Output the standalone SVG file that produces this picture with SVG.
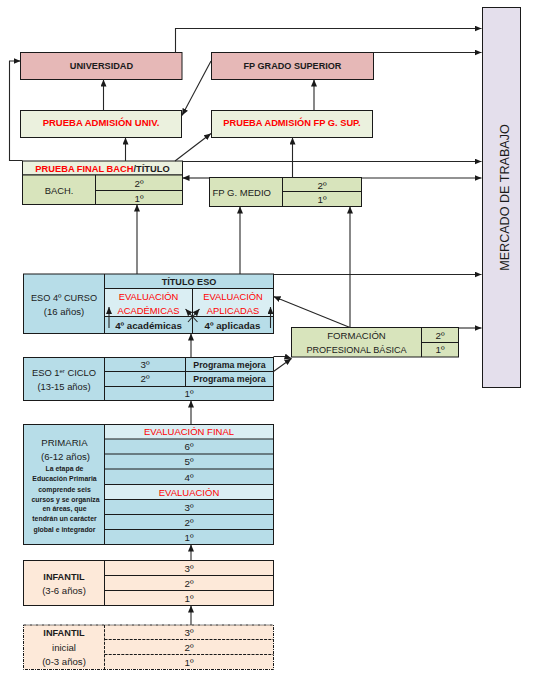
<svg xmlns="http://www.w3.org/2000/svg" width="546" height="676" viewBox="0 0 546 676">
<defs>
<marker id="ah" markerUnits="userSpaceOnUse" markerWidth="7" markerHeight="6" refX="7" refY="3" orient="auto-start-reverse"><path d="M0,0 L7,3 L0,6 z" fill="#1a1a1a"/></marker>
<style>
text{font-family:"Liberation Sans",Arial,sans-serif;fill:#1b1b1b;text-anchor:middle}
.b{font-weight:bold}
.r{fill:#ff0000}
.bx{stroke:#1a1a1a;stroke-width:1}
.ln{fill:none;stroke:#1a1a1a;stroke-width:1}
.c{stroke:#262626;stroke-width:1.1;fill:none}
.a{marker-end:url(#ah)}
.pink{fill:#E6B8B7}.lg{fill:#EBF1DE}.og{fill:#D8E4BC}.bl{fill:#B7DDE8}.lb{fill:#DAEEF3}.pe{fill:#FDE9D9}.lv{fill:#E4DFEC}
.dsh{stroke-dasharray:3 1 1 1}
.dsh2{stroke-dasharray:3 1.2}
</style>
</defs>

<g id="mercado">
<rect class="bx lv" x="482.5" y="7.5" width="38" height="380"/>
<text x="508.5" y="197.5" font-size="12.6" transform="rotate(-90 508.5 197.5)">MERCADO DE TRABAJO</text>
</g>

<g id="universidad">
<rect class="bx pink" x="20.5" y="52.5" width="161.5" height="27"/>
<text class="b" x="101.5" y="68.5" font-size="9.2">UNIVERSIDAD</text>
</g>

<g id="fp-grado-superior">
<rect class="bx pink" x="211.5" y="52.5" width="162" height="27"/>
<text class="b" x="292.5" y="68.5" font-size="9.1">FP GRADO SUPERIOR</text>
</g>

<g id="prueba-admision-univ">
<rect class="bx lg" x="20.5" y="110.5" width="161" height="27"/>
<text class="b r" x="101" y="125.5" font-size="9.5">PRUEBA ADMISIÓN UNIV.</text>
</g>

<g id="prueba-admision-fp">
<rect class="bx lg" x="211.5" y="110.5" width="161" height="27"/>
<text class="b r" x="292" y="125.5" font-size="9.3">PRUEBA ADMISIÓN FP G. SUP.</text>
</g>

<g id="bach">
<rect class="bx lg" x="22.5" y="161" width="160" height="14"/>
<rect class="bx og" x="22.5" y="175" width="160" height="29.5"/>
<path class="ln" d="M95.5,175 V204.5 M95.5,190.5 H182.5"/>
<text class="b" x="102.5" y="172" font-size="9.3"><tspan class="r">PRUEBA FINAL BACH</tspan>/TÍTULO</text>
<text x="59" y="194" font-size="9.4">BACH.</text>
<text x="139" y="186.5" font-size="9.8">2º</text>
<text x="139" y="201.5" font-size="9.8">1º</text>
</g>

<g id="fp-grado-medio">
<rect class="bx og" x="209.5" y="177.5" width="152" height="29"/>
<path class="ln" d="M282.5,177.5 V206.5 M282.5,191.5 H361.5"/>
<text x="212.5" y="196" font-size="9.5" style="text-anchor:start">FP G. MEDIO</text>
<text x="322" y="188.5" font-size="9.8">2º</text>
<text x="322" y="203" font-size="9.8">1º</text>
</g>

<g id="eso-4">
<rect class="bx bl" x="23.5" y="274" width="250" height="59.5"/>
<rect class="bx lb" x="104.5" y="288.5" width="169" height="28"/>
<path class="ln" d="M104.5,274 V333.5 M192.5,288.5 V333.5"/>
<text x="64" y="301" font-size="9.2">ESO 4º CURSO</text>
<text x="64" y="315" font-size="9.6">(16 años)</text>
<text class="b" x="189" y="285" font-size="9.1">TÍTULO ESO</text>
<text class="r" x="148.5" y="300" font-size="9.4">EVALUACIÓN</text>
<text class="r" x="148.5" y="313.5" font-size="9.4">ACADÉMICAS</text>
<text class="r" x="233" y="300" font-size="9.4">EVALUACIÓN</text>
<text class="r" x="233" y="313.5" font-size="9.4">APLICADAS</text>
<text class="b" x="148.5" y="329" font-size="9.7">4º académicas</text>
<text class="b" x="232.5" y="329" font-size="9.7">4º aplicadas</text>
</g>

<g id="fp-basica">
<rect class="bx og" x="291.5" y="327.5" width="167" height="29.5"/>
<path class="ln" d="M421.5,327.5 V357 M421.5,342.5 H458.5"/>
<text x="356.5" y="338.5" font-size="9.6">FORMACIÓN</text>
<text x="356.5" y="352.5" font-size="9.1">PROFESIONAL BÁSICA</text>
<text x="440" y="338.5" font-size="9.8">2º</text>
<text x="440" y="353" font-size="9.8">1º</text>
</g>

<g id="eso-1-ciclo">
<rect class="bx bl" x="23.5" y="357.5" width="250" height="43"/>
<path class="ln" d="M104.5,357.5 V400.5 M104.5,371.5 H273.5 M104.5,386.5 H273.5 M185.5,357.5 V386.5"/>
<text x="64" y="376" font-size="9.4">ESO 1<tspan font-size="6" dy="-3.5">er</tspan><tspan dy="3.5"> CICLO</tspan></text>
<text x="64" y="390" font-size="9.4">(13-15 años)</text>
<text x="145" y="367.5" font-size="9.8">3º</text>
<text x="145" y="382" font-size="9.8">2º</text>
<text class="b" x="229.5" y="367.5" font-size="8.8">Programa mejora</text>
<text class="b" x="229.5" y="382" font-size="8.8">Programa mejora</text>
<text x="189" y="397" font-size="9.8">1º</text>
</g>

<g id="primaria">
<rect class="bx bl" x="23.5" y="424.5" width="250" height="120"/>
<rect class="bx lb" x="104.5" y="424.5" width="169" height="14.5"/>
<rect class="bx lb" x="104.5" y="484.5" width="169" height="15"/>
<path class="ln" d="M104.5,424.5 V544.5 M104.5,454 H273.5 M104.5,469 H273.5 M104.5,514.5 H273.5 M104.5,529.5 H273.5"/>
<text x="64.5" y="446" font-size="9.6">PRIMARIA</text>
<text x="65.5" y="460" font-size="9.6">(6-12 años)</text>
<g class="b" font-size="6.9">
<text x="64.5" y="471">La etapa de</text>
<text x="64.5" y="481">Educación Primaria</text>
<text x="64.5" y="491.5">comprende seis</text>
<text x="65.5" y="501.5">cursos y se organiza</text>
<text x="64.5" y="511">en áreas, que</text>
<text x="64.5" y="521">tendrán un carácter</text>
<text x="64.5" y="531.5">global e integrador</text>
</g>
<text class="r" x="189" y="435" font-size="9.5">EVALUACIÓN FINAL</text>
<text x="189" y="450" font-size="9.8">6º</text>
<text x="189" y="465" font-size="9.8">5º</text>
<text x="189" y="480.5" font-size="9.8">4º</text>
<text class="r" x="189" y="495.5" font-size="9.5">EVALUACIÓN</text>
<text x="189" y="510.5" font-size="9.8">3º</text>
<text x="189" y="525.5" font-size="9.8">2º</text>
<text x="189" y="540.5" font-size="9.8">1º</text>
</g>

<g id="infantil">
<rect class="bx pe" x="23.5" y="560.5" width="250" height="45"/>
<path class="ln" d="M104.5,560.5 V605.5 M104.5,575.5 H273.5 M104.5,590.5 H273.5"/>
<text class="b" x="64" y="579.5" font-size="9.2">INFANTIL</text>
<text x="64" y="594" font-size="9.6">(3-6 años)</text>
<text x="189" y="571.5" font-size="9.8">3º</text>
<text x="189" y="586.5" font-size="9.8">2º</text>
<text x="189" y="601.5" font-size="9.8">1º</text>
</g>

<g id="infantil-inicial">
<rect class="bx pe dsh" x="23.5" y="625" width="250" height="44.5"/>
<path class="ln dsh2" d="M104.5,625 V669.5 M104.5,639.5 H273.5 M104.5,654.5 H273.5"/>
<text class="b" x="64" y="636" font-size="9.2">INFANTIL</text>
<text x="64" y="650.5" font-size="9.6">inicial</text>
<text x="64" y="664.5" font-size="9.6">(0-3 años)</text>
<text x="189" y="635.5" font-size="9.8">3º</text>
<text x="189" y="650.5" font-size="9.8">2º</text>
<text x="189" y="665.5" font-size="9.8">1º</text>
</g>

<g id="connectors">
<polyline class="c a" points="175.5,52.5 175.5,28.5 481.5,28.5"/>
<line class="c a" x1="373.5" y1="52.5" x2="481.5" y2="52.5"/>
<line class="c a" x1="211" y1="61" x2="182" y2="115.5"/>
<line class="c a" x1="314" y1="110.5" x2="314" y2="79.5"/>
<line class="c a" x1="103.5" y1="110.5" x2="103.5" y2="79.5"/>
<line class="c a" x1="125.5" y1="161" x2="125.5" y2="137.5"/>
<line class="c a" x1="175" y1="161" x2="211" y2="133.5"/>
<polyline class="c a" points="22.5,160.5 9.5,160.5 9.5,61 20.5,61"/>
<line class="c a" x1="182.5" y1="161.5" x2="481.5" y2="161.5"/>
<line class="c a" x1="182.5" y1="178" x2="209.5" y2="178" style="marker-start:url(#ah);marker-end:none"/>
<line class="c a" x1="361.5" y1="178" x2="481.5" y2="178"/>
<line class="c a" x1="292.5" y1="177.5" x2="292.5" y2="137.5"/>
<line class="c a" x1="137" y1="274" x2="137" y2="204.5"/>
<line class="c a" x1="240" y1="274" x2="240" y2="206.5"/>
<line class="c a" x1="350" y1="327.5" x2="350" y2="206.5"/>
<line class="c a" x1="350" y1="327.5" x2="273.5" y2="296.5"/>
<line class="c a" x1="273.5" y1="274.5" x2="481.5" y2="274.5"/>
<line class="c a" x1="458.5" y1="328" x2="481.5" y2="328"/>
<polyline class="c a" points="273.5,356.5 284.5,356.5 291.5,358.5"/>
<line class="c a" x1="273.5" y1="371.5" x2="291.5" y2="358.5"/>
<line class="c a" x1="109" y1="328" x2="109" y2="307"/>
<line class="c a" x1="270.5" y1="328" x2="270.5" y2="307"/>
<line class="c a" x1="188" y1="322" x2="199.5" y2="309"/>
<line class="c a" x1="197.5" y1="322" x2="185.5" y2="309"/>
<line class="c a" x1="191" y1="357.5" x2="191" y2="333.5"/>
<line class="c a" x1="191" y1="424.5" x2="191" y2="400.5"/>
<line class="c a" x1="191" y1="560.5" x2="191" y2="544.5"/>
<line class="c a" x1="191" y1="625" x2="191" y2="605.5"/>
</g>
</svg>
